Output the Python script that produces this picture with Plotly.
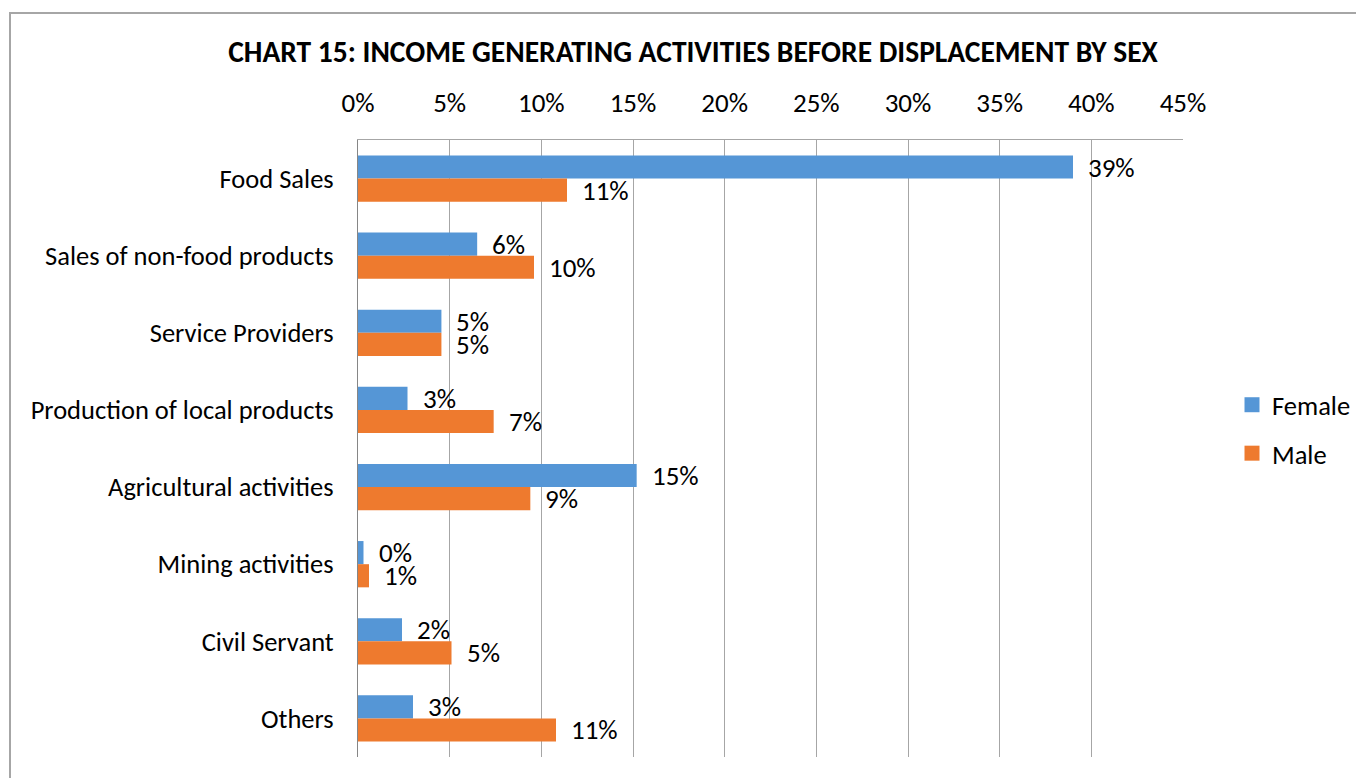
import plotly.graph_objects as go

categories = ["Food Sales", "Sales of non-food products", "Service Providers",
              "Production of local products", "Agricultural activities",
              "Mining activities", "Civil Servant", "Others"]
female = [0.390, 0.065, 0.0455, 0.027, 0.152, 0.003, 0.024, 0.030]
male = [0.114, 0.096, 0.0455, 0.074, 0.094, 0.006, 0.051, 0.108]
x_ticks = [0, 0.05, 0.10, 0.15, 0.20, 0.25, 0.30, 0.35, 0.40, 0.45]
x_tick_text = ["0%", "5%", "10%", "15%", "20%", "25%", "30%", "35%", "40%", "45%"]

FONT = "Calibri, Carlito, Lato, sans-serif"
FEMALE_C = "#5596D6"
MALE_C = "#EE7A2E"

# page offset of the figure inside the html body (8px body margin)
OFF = 8
L, T = 358 - OFF, 140 - OFF
PW, PH = 825, 617

fig = go.Figure()
fig.add_trace(go.Bar(y=categories, x=female, name="Female", orientation="h",
                     marker=dict(color=FEMALE_C, line=dict(width=0)),
                     showlegend=False, hoverinfo="x+y"))
fig.add_trace(go.Bar(y=categories, x=male, name="Male", orientation="h",
                     marker=dict(color=MALE_C, line=dict(width=0)),
                     showlegend=False, hoverinfo="x+y"))
# legend entries with square swatches
for name, col, grp in (("Female", FEMALE_C, "f"), ("Male", MALE_C, "m")):
    fig.add_trace(go.Scatter(x=[None], y=[None], mode="markers", name=name,
                             legendgroup=grp,
                             marker=dict(symbol="square", size=15, color=col)))

annotations = []
for series, shift in ((female, 11.5), (male, -11.5)):
    for cat, v in zip(categories, series):
        annotations.append(dict(x=v, y=cat, xref="x", yref="y", text=f"{v:.0%}",
                                showarrow=False, xanchor="left", yanchor="middle",
                                xshift=13, yshift=shift,
                                font=dict(family=FONT, size=27, color="#000000")))

fig.update_layout(
    width=1364, height=778,
    margin=dict(l=L, r=1364 - L - PW, t=T, b=778 - T - PH),
    paper_bgcolor="white", plot_bgcolor="white",
    barmode="group", bargap=0.4, bargroupgap=0,
    font=dict(family=FONT, size=27, color="#000000"),
    title=dict(text="<b>CHART 15: INCOME GENERATING ACTIVITIES BEFORE DISPLACEMENT BY SEX</b>",
               x=(228 + 1158) / 2 / 1364 - OFF / 1364, xref="container", xanchor="center",
               y=1 - (52 - OFF) / 778, yanchor="middle",
               font=dict(family=FONT, size=29.5, color="#000000")),
    xaxis=dict(side="top", range=[0, 0.45], tickvals=x_ticks, ticktext=x_tick_text,
               showgrid=True, gridcolor="#A6A6A6", gridwidth=1, zeroline=False,
               showline=True, linecolor="#A6A6A6", linewidth=1, ticks="",
               ticklabelstandoff=16, tickfont=dict(family=FONT, size=27)),
    yaxis=dict(autorange="reversed", showgrid=False, zeroline=False,
               showline=True, linecolor="#868686", linewidth=1, ticks="",
               ticklabelstandoff=18, tickfont=dict(family=FONT, size=26.5)),
    legend=dict(x=(1232 - OFF - L) / PW, xanchor="left",
                y=(T + PH - (429 - OFF)) / PH, yanchor="middle",
                traceorder="grouped", tracegroupgap=11, itemsizing="trace",
                font=dict(family=FONT, size=26.5), bgcolor="rgba(0,0,0,0)"),
    annotations=annotations,
    shapes=[dict(type="rect", xref="paper", yref="paper",
                 x0=(10 - OFF - L) / PW, x1=(1400 - OFF - L) / PW,
                 y0=-(820 - 757) / PH, y1=1 + (T - (13 - OFF)) / PH,
                 line=dict(color="#A6A6A6", width=2), fillcolor="rgba(0,0,0,0)",
                 layer="below")],
)

fig.write_html("out.html")
